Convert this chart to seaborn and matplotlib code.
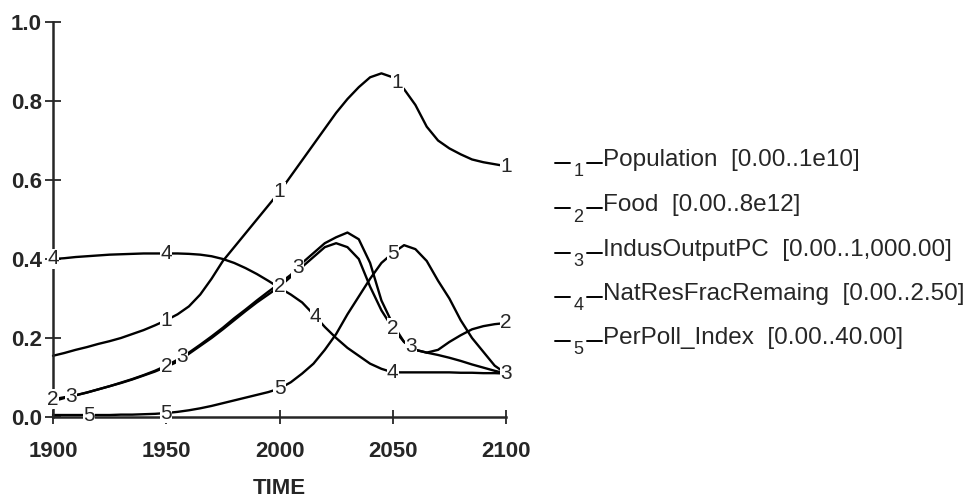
import numpy as np
import pandas as pd
import seaborn as sns
import matplotlib.pyplot as plt
from matplotlib.lines import Line2D

# data (scaled 0..1)
years = np.arange(1900, 2101, 5)

population = [0.155, 0.162, 0.170, 0.177, 0.185, 0.192, 0.200, 0.210, 0.220, 0.232,
              0.245, 0.260, 0.280, 0.310, 0.350, 0.395, 0.430, 0.465, 0.500, 0.535,
              0.570, 0.610, 0.650, 0.690, 0.730, 0.770, 0.805, 0.835, 0.860, 0.870,
              0.860, 0.830, 0.790, 0.735, 0.700, 0.680, 0.665, 0.652, 0.645, 0.640, 0.635]
food = [0.045, 0.050, 0.055, 0.062, 0.070, 0.078, 0.086, 0.095, 0.105, 0.115,
        0.127, 0.140, 0.160, 0.180, 0.200, 0.222, 0.245, 0.268, 0.290, 0.310,
        0.330, 0.355, 0.380, 0.405, 0.430, 0.440, 0.430, 0.400, 0.330, 0.270,
        0.225, 0.190, 0.170, 0.163, 0.170, 0.190, 0.207, 0.222, 0.230, 0.235, 0.238]
indus_output = [0.040, 0.048, 0.055, 0.062, 0.070, 0.078, 0.087, 0.096, 0.106, 0.117,
                0.130, 0.145, 0.163, 0.183, 0.204, 0.226, 0.250, 0.272, 0.295, 0.317,
                0.338, 0.360, 0.390, 0.415, 0.440, 0.455, 0.467, 0.450, 0.390, 0.295,
                0.235, 0.190, 0.170, 0.163, 0.157, 0.150, 0.142, 0.133, 0.125, 0.117, 0.110]
nat_res = [0.400, 0.402, 0.405, 0.407, 0.409, 0.411, 0.412, 0.413, 0.414, 0.414,
           0.414, 0.414, 0.413, 0.411, 0.407, 0.400, 0.390, 0.377, 0.362, 0.345,
           0.327, 0.310, 0.290, 0.260, 0.228, 0.200, 0.175, 0.155, 0.135, 0.122,
           0.113, 0.113, 0.113, 0.113, 0.113, 0.113, 0.112, 0.112, 0.111, 0.111, 0.110]
pollution = [0.005, 0.005, 0.005, 0.005, 0.005, 0.005, 0.006, 0.006, 0.007, 0.008,
             0.010, 0.013, 0.017, 0.022, 0.028, 0.035, 0.042, 0.049, 0.056, 0.063,
             0.072, 0.088, 0.110, 0.135, 0.170, 0.210, 0.260, 0.305, 0.350, 0.390,
             0.415, 0.435, 0.425, 0.395, 0.345, 0.300, 0.245, 0.200, 0.165, 0.130, 0.110]

series_names = ["Population  [0.00..1e10]", "Food  [0.00..8e12]",
                "IndusOutputPC  [0.00..1,000.00]", "NatResFracRemaing  [0.00..2.50]",
                "PerPoll_Index  [0.00..40.00]"]
series_values = [population, food, indus_output, nat_res, pollution]
# years where the curve number is printed on the line
label_years = [[1950, 2000, 2052, 2100],
               [1900, 1950, 2000, 2050, 2100],
               [1908, 1957, 2008, 2058, 2100],
               [1900, 1950, 2016, 2050],
               [1916, 1950, 2000, 2050]]

xticks = [1900, 1950, 2000, 2050, 2100]
yticks = [0.0, 0.2, 0.4, 0.6, 0.8, 1.0]

sns.set_style("ticks")
plt.rcParams['font.family'] = ['Liberation Sans', 'DejaVu Sans']

fig = plt.figure(figsize=(9.79, 5.03), dpi=100)
ax = fig.add_axes([53 / 979, 1 - 417 / 503, 453 / 979, 395 / 503])

for i, vals in enumerate(series_values):
    df = pd.DataFrame({"year": years, "value": vals})
    sns.lineplot(data=df, x="year", y="value", color="black", linewidth=1.7,
                 ax=ax, clip_on=False)
    for yr in label_years[i]:
        ax.text(yr, np.interp(yr, years, vals), str(i + 1), fontsize=15,
                ha="center", va="center", zorder=5,
                bbox=dict(facecolor="white", edgecolor="none", pad=0.3))

ax.set_xlim(1900, 2100)
ax.set_ylim(0, 1.0)
ax.set_xticks(xticks)
ax.set_yticks(yticks)
ax.set_yticklabels([f"{v:.1f}" for v in yticks])
ax.tick_params(axis="x", direction="inout", length=10, width=1.3, labelsize=16, pad=12)
ax.tick_params(axis="y", direction="inout", length=12, width=1.3, labelsize=16, pad=2)
for lab in ax.get_xticklabels() + ax.get_yticklabels():
    lab.set_fontweight("bold")
ax.set_xlabel("TIME", fontsize=16, fontweight="bold", labelpad=12)
ax.set_ylabel("")
for side in ["top", "right"]:
    ax.spines[side].set_visible(False)
for side in ["left", "bottom"]:
    ax.spines[side].set_linewidth(1.8)

# legend drawn like the original: -n- label text
W, H = 979, 503
row_y = [160, 205, 250, 294, 338]
for i, name in enumerate(series_names):
    yy = 1 - (row_y[i] + 3) / H
    fig.add_artist(Line2D([555 / W, 570 / W], [yy, yy], color="black", lw=1.4))
    fig.add_artist(Line2D([587 / W, 602 / W], [yy, yy], color="black", lw=1.4))
    fig.text(578.5 / W, 1 - (row_y[i] + 12) / H, str(i + 1), fontsize=13,
             ha="center", va="center")
    fig.text(603 / W, 1 - row_y[i] / H, name, fontsize=17.5, ha="left", va="center")

fig.savefig("out.png", dpi=100)
